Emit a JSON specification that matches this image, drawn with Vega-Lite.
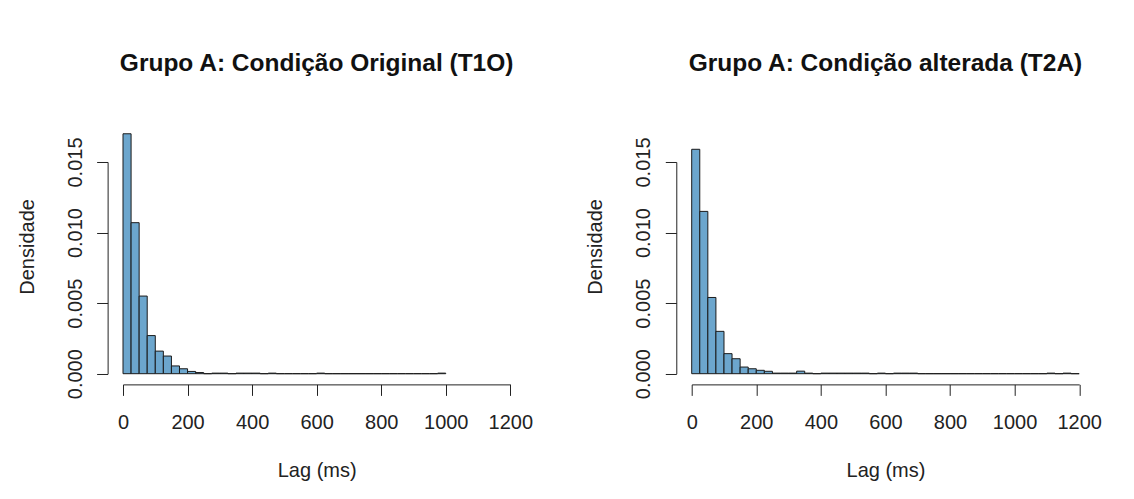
{
  "$schema": "https://vega.github.io/schema/vega-lite/v6.json",
  "background": "white",
  "padding": {"left": 17, "top": 51, "right": 0, "bottom": 0},
  "bounds": "flush",
  "spacing": 180.7,
  "config": {
    "view": {"stroke": null},
    "font": "Liberation Sans",
    "axis": {
      "grid": false,
      "domainColor": "#222",
      "tickColor": "#222",
      "labelColor": "#222",
      "titleColor": "#222",
      "labelFont": "Liberation Sans",
      "titleFont": "Liberation Sans",
      "labelFontSize": 20,
      "titleFontSize": 20,
      "titleFontWeight": "normal",
      "tickSize": 11,
      "domainWidth": 1,
      "tickWidth": 1,
      "labelFlush": false,
      "labelOverlap": false
    },
    "title": {
      "font": "Liberation Sans",
      "fontSize": 24.5,
      "fontWeight": "bold",
      "color": "#111",
      "anchor": "middle",
      "frame": "group",
      "baseline": "alphabetic"
    }
  },
  "datasets": {
    "t1o": [
      {"lo": 0, "hi": 25, "density": 0.0170},
      {"lo": 25, "hi": 50, "density": 0.0107},
      {"lo": 50, "hi": 75, "density": 0.0055},
      {"lo": 75, "hi": 100, "density": 0.0027},
      {"lo": 100, "hi": 125, "density": 0.0016},
      {"lo": 125, "hi": 150, "density": 0.00125},
      {"lo": 150, "hi": 175, "density": 0.00055},
      {"lo": 175, "hi": 200, "density": 0.00035},
      {"lo": 200, "hi": 225, "density": 0.00016},
      {"lo": 225, "hi": 250, "density": 0.00008},
      {"lo": 250, "hi": 275, "density": 0},
      {"lo": 275, "hi": 300, "density": 0.00004},
      {"lo": 300, "hi": 325, "density": 0.00004},
      {"lo": 325, "hi": 350, "density": 0},
      {"lo": 350, "hi": 375, "density": 0.00004},
      {"lo": 375, "hi": 400, "density": 0.00004},
      {"lo": 400, "hi": 425, "density": 0.00004},
      {"lo": 425, "hi": 450, "density": 0},
      {"lo": 450, "hi": 475, "density": 0.00004},
      {"lo": 475, "hi": 500, "density": 0},
      {"lo": 500, "hi": 525, "density": 0},
      {"lo": 525, "hi": 550, "density": 0},
      {"lo": 550, "hi": 575, "density": 0},
      {"lo": 575, "hi": 600, "density": 0},
      {"lo": 600, "hi": 625, "density": 0.00004},
      {"lo": 625, "hi": 650, "density": 0},
      {"lo": 650, "hi": 675, "density": 0},
      {"lo": 675, "hi": 700, "density": 0},
      {"lo": 700, "hi": 725, "density": 0},
      {"lo": 725, "hi": 750, "density": 0},
      {"lo": 750, "hi": 775, "density": 0},
      {"lo": 775, "hi": 800, "density": 0},
      {"lo": 800, "hi": 825, "density": 0},
      {"lo": 825, "hi": 850, "density": 0},
      {"lo": 850, "hi": 875, "density": 0},
      {"lo": 875, "hi": 900, "density": 0},
      {"lo": 900, "hi": 925, "density": 0},
      {"lo": 925, "hi": 950, "density": 0},
      {"lo": 950, "hi": 975, "density": 0},
      {"lo": 975, "hi": 1000, "density": 0.00004}
    ],
    "t2a": [
      {"lo": 0, "hi": 25, "density": 0.0159},
      {"lo": 25, "hi": 50, "density": 0.0115},
      {"lo": 50, "hi": 75, "density": 0.0054},
      {"lo": 75, "hi": 100, "density": 0.0030},
      {"lo": 100, "hi": 125, "density": 0.00142},
      {"lo": 125, "hi": 150, "density": 0.00106},
      {"lo": 150, "hi": 175, "density": 0.00047},
      {"lo": 175, "hi": 200, "density": 0.00035},
      {"lo": 200, "hi": 225, "density": 0.00024},
      {"lo": 225, "hi": 250, "density": 0.00017},
      {"lo": 250, "hi": 275, "density": 0.00004},
      {"lo": 275, "hi": 300, "density": 0.00004},
      {"lo": 300, "hi": 325, "density": 0.00004},
      {"lo": 325, "hi": 350, "density": 0.00018},
      {"lo": 350, "hi": 375, "density": 0.00004},
      {"lo": 375, "hi": 400, "density": 0},
      {"lo": 400, "hi": 425, "density": 0.00004},
      {"lo": 425, "hi": 450, "density": 0.00004},
      {"lo": 450, "hi": 475, "density": 0.00004},
      {"lo": 475, "hi": 500, "density": 0.00004},
      {"lo": 500, "hi": 525, "density": 0.00004},
      {"lo": 525, "hi": 550, "density": 0.00004},
      {"lo": 550, "hi": 575, "density": 0},
      {"lo": 575, "hi": 600, "density": 0.00004},
      {"lo": 600, "hi": 625, "density": 0},
      {"lo": 625, "hi": 650, "density": 0.00004},
      {"lo": 650, "hi": 675, "density": 0.00004},
      {"lo": 675, "hi": 700, "density": 0.00004},
      {"lo": 700, "hi": 725, "density": 0},
      {"lo": 725, "hi": 750, "density": 0},
      {"lo": 750, "hi": 775, "density": 0},
      {"lo": 775, "hi": 800, "density": 0},
      {"lo": 800, "hi": 825, "density": 0},
      {"lo": 825, "hi": 850, "density": 0},
      {"lo": 850, "hi": 875, "density": 0},
      {"lo": 875, "hi": 900, "density": 0},
      {"lo": 900, "hi": 925, "density": 0},
      {"lo": 925, "hi": 950, "density": 0},
      {"lo": 950, "hi": 975, "density": 0},
      {"lo": 975, "hi": 1000, "density": 0},
      {"lo": 1000, "hi": 1025, "density": 0},
      {"lo": 1025, "hi": 1050, "density": 0},
      {"lo": 1050, "hi": 1075, "density": 0},
      {"lo": 1075, "hi": 1100, "density": 0},
      {"lo": 1100, "hi": 1125, "density": 0.00004},
      {"lo": 1125, "hi": 1150, "density": 0},
      {"lo": 1150, "hi": 1175, "density": 0.00004},
      {"lo": 1175, "hi": 1200, "density": 0}
    ]
  },
  "hconcat": [
    {
      "width": 387.3,
      "height": 211.7,
      "title": {"text": "Grupo A: Condição Original (T1O)", "offset": 56.6},
      "data": {"name": "t1o"},
      "mark": {"type": "rect", "fill": "#6CA6CD", "stroke": "#1a1a1a", "strokeWidth": 1},
      "encoding": {
        "x": {
          "field": "lo", "type": "quantitative",
          "scale": {"domain": [0, 1200], "nice": false, "zero": false},
          "axis": {
            "title": "Lag (ms)",
            "values": [0, 200, 400, 600, 800, 1000, 1200],
            "format": "d",
            "offset": 10.7,
            "labelBaseline": "alphabetic",
            "labelPadding": 33.3,
            "titleBaseline": "alphabetic",
            "titleY": 92.3
          }
        },
        "x2": {"field": "hi"},
        "y": {
          "field": "density", "type": "quantitative",
          "scale": {"domain": [0, 0.015], "nice": false},
          "axis": {
            "title": "Densidade",
            "values": [0, 0.005, 0.01, 0.015],
            "format": ".3f",
            "offset": 15.4,
            "labelAngle": -90,
            "labelAlign": "center",
            "labelBaseline": "alphabetic",
            "labelPadding": 15.3,
            "titleAngle": -90,
            "titleAlign": "center",
            "titleBaseline": "alphabetic",
            "titleX": -74.3,
            "titleY": 84.4
          }
        },
        "y2": {"datum": 0}
      }
    },
    {
      "width": 387.5,
      "height": 211.7,
      "title": {"text": "Grupo A: Condição alterada (T2A)", "offset": 60.3},
      "data": {"name": "t2a"},
      "mark": {"type": "rect", "fill": "#6CA6CD", "stroke": "#1a1a1a", "strokeWidth": 1},
      "encoding": {
        "x": {
          "field": "lo", "type": "quantitative",
          "scale": {"domain": [0, 1200], "nice": false, "zero": false},
          "axis": {
            "title": "Lag (ms)",
            "values": [0, 200, 400, 600, 800, 1000, 1200],
            "format": "d",
            "offset": 10.7,
            "labelBaseline": "alphabetic",
            "labelPadding": 33.3,
            "titleBaseline": "alphabetic",
            "titleY": 92.3
          }
        },
        "x2": {"field": "hi"},
        "y": {
          "field": "density", "type": "quantitative",
          "scale": {"domain": [0, 0.015], "nice": false},
          "axis": {
            "title": "Densidade",
            "values": [0, 0.005, 0.01, 0.015],
            "format": ".3f",
            "offset": 15.4,
            "labelAngle": -90,
            "labelAlign": "center",
            "labelBaseline": "alphabetic",
            "labelPadding": 15.3,
            "titleAngle": -90,
            "titleAlign": "center",
            "titleBaseline": "alphabetic",
            "titleX": -74.3,
            "titleY": 84.4
          }
        },
        "y2": {"datum": 0}
      }
    }
  ]
}
